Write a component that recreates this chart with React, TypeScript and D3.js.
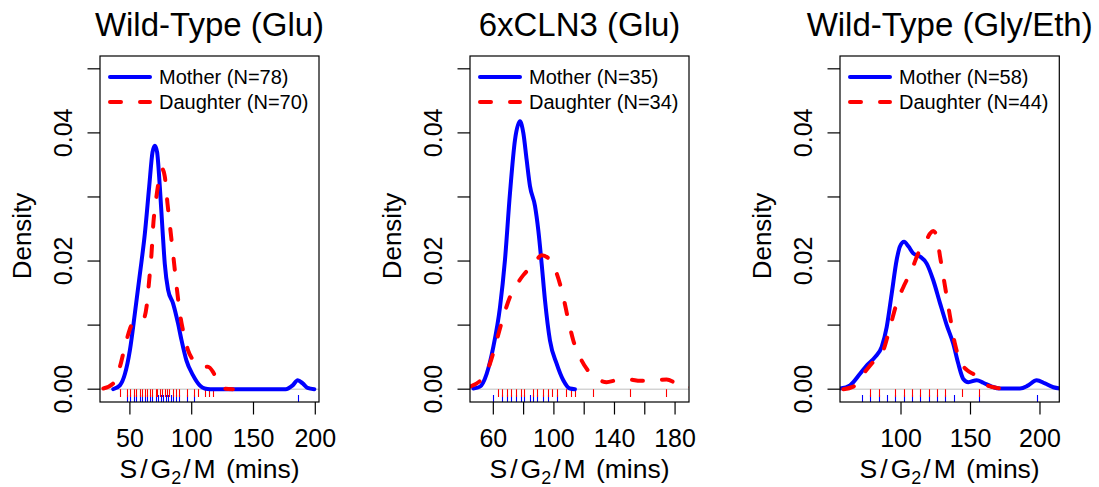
import React from "react";
import * as d3 from "d3";

// ---------- DATA ----------
const panelTitles = ["Wild-Type (Glu)", "6xCLN3 (Glu)", "Wild-Type (Gly/Eth)"];
const motherN = [78, 35, 58];
const daughterN = [70, 34, 44];

const xDomains: [number, number][] = [
  [25.8, 203],
  [44.6, 189.2],
  [56.1, 213.9],
];
const xTicks = [
  [50, 100, 150, 200],
  [60, 80, 100, 120, 140, 160, 180],
  [100, 150, 200],
];
const xTickLabels = [
  [50, 100, 150, 200],
  [60, 100, 140, 180],
  [100, 150, 200],
];
const yTicks = [0, 0.01, 0.02, 0.03, 0.04, 0.05];
const yTickLabels = [0, 0.02, 0.04];

// density curves [minutes, density]
const wtGluMother: [number, number][] = [
  [36.5, 0], [41.9, 0.0006], [46.0, 0.0024], [50.0, 0.0061], [54.0, 0.0118],
  [58.1, 0.018], [62.1, 0.0243], [65.6, 0.0316], [68.3, 0.037], [70.2, 0.038],
  [72.0, 0.037], [74.2, 0.0316], [76.4, 0.0248], [78.2, 0.0196], [80.9, 0.0155],
  [84.9, 0.0134], [88.9, 0.0103], [91.7, 0.0077], [95.7, 0.0045], [101.0, 0.0022],
  [106.5, 0.0006], [110.5, 0.0001], [115, 0], [176, 0], [181.7, 0.0006],
  [185.8, 0.0014], [189.8, 0.0009], [193.8, 0.0002], [199.2, 0],
];
const wtGluDaughter: [number, number][] = [
  [28.5, 0.0001], [36.5, 0.0009], [41.9, 0.0035], [47.3, 0.0077], [52.7, 0.0103],
  [57.0, 0.0104], [60.7, 0.0108], [63.5, 0.0129], [65.6, 0.017], [67.5, 0.0212],
  [68.8, 0.0254], [71.5, 0.0301], [74.2, 0.0333], [76.0, 0.0344], [78.2, 0.0332],
  [80.4, 0.029], [82.8, 0.0248], [85.5, 0.0201], [88.1, 0.0155], [90.9, 0.0113],
  [93.5, 0.0087], [97.0, 0.0061], [102.4, 0.0043], [107.8, 0.0035], [113.1, 0.0035],
  [117.2, 0.0027], [119.9, 0.0017], [126.6, 0.0001], [133.3, 0],
];
const cln3Mother: [number, number][] = [
  [46.8, 0.0001], [51.2, 0.0004], [55.6, 0.0024], [60.0, 0.0066], [64.4, 0.0128],
  [67.7, 0.0202], [71.0, 0.0306], [74.3, 0.0389], [77.6, 0.0418], [79.8, 0.04],
  [82.0, 0.0358], [84.2, 0.0317], [87.5, 0.0286], [89.7, 0.0248], [91.9, 0.0196],
  [94.1, 0.0139], [97.4, 0.0076], [101.8, 0.004], [106.2, 0.0014], [110.6, 0.0001],
  [113.9, 0],
];
const cln3Daughter: [number, number][] = [
  [44.6, 0.0004], [53.4, 0.0019], [57.8, 0.004], [62.2, 0.0076], [66.6, 0.0113],
  [71.0, 0.0144], [75.4, 0.0163], [79.8, 0.0178], [86.4, 0.0194], [91.9, 0.0209],
  [97.4, 0.0202], [101.8, 0.0181], [106.2, 0.0144], [109.5, 0.0108], [112.8, 0.0076],
  [117.2, 0.005], [121.6, 0.0032], [128.2, 0.0017], [134.8, 0.0011], [141.4, 0.0014],
  [150.2, 0.0015], [156.8, 0.0013], [165.5, 0.0014], [174.4, 0.0015], [181.0, 0.0009],
  [188.6, 0.0004], [192, 0.0002],
];
const glyMother: [number, number][] = [
  [56.1, 0.0001], [63.3, 0.0006], [70.5, 0.0024], [75.3, 0.0037], [81.3, 0.005],
  [86.1, 0.0066], [89.7, 0.0097], [93.3, 0.0149], [96.9, 0.0202], [99.3, 0.0223],
  [102.2, 0.023], [105.3, 0.0223], [108.8, 0.0212], [113.7, 0.0207], [118.5, 0.0196],
  [123.2, 0.017], [128.1, 0.0134], [132.9, 0.01], [137.6, 0.0071], [141.2, 0.004],
  [144.8, 0.0016], [148.4, 0.0011], [154.5, 0.0014], [159.2, 0.001], [165.3, 0.0004],
  [171.2, 0.0001], [185.6, 0.0001], [191.6, 0.0006], [197.6, 0.0014], [203.6, 0.0009],
  [209.6, 0.0003], [214.4, 0.0001],
];
const glyDaughter: [number, number][] = [
  [58.5, 0], [65.7, 0.0004], [72.9, 0.0024], [80.1, 0.0043], [87.3, 0.0061],
  [92.1, 0.0097], [96.9, 0.0134], [102.9, 0.0165], [107.7, 0.0186], [112.4, 0.0212],
  [117.3, 0.0228], [120.9, 0.0243], [123.2, 0.0247], [125.7, 0.0238], [128.1, 0.0207],
  [131.7, 0.016], [135.3, 0.0113], [138.8, 0.0071], [142.4, 0.0045], [147.3, 0.003],
  [153.2, 0.0022], [159.2, 0.0009], [168.8, 0.0002], [176.0, 0],
];

// rug observations (minutes)
const wtGluMotherRug = [48, 50, 53, 55, 58, 60, 62, 64, 66, 68, 71, 73, 75, 77, 79, 81, 83, 85, 87, 90, 96, 102, 186];
const wtGluDaughterRug = [42, 48, 50, 53, 55, 58, 60, 62, 64, 66, 68, 71, 72, 74, 76, 78, 80, 82, 85, 87, 90, 96, 102, 105, 111, 114, 117];
const cln3MotherRug = [60, 66, 69, 72, 75, 78, 80, 84, 86, 89, 93, 96, 102];
const cln3DaughterRug = [63, 66, 69, 72, 75, 78, 80, 86, 89, 93, 96, 99, 102, 108, 111, 114, 126, 150, 174];
const glyMotherRug = [72, 78, 84, 90, 96, 102, 108, 114, 120, 126, 132, 138, 156, 198];
const glyDaughterRug = [78, 84, 96, 102, 108, 114, 120, 126, 132, 144, 156];

const motherCurves = [wtGluMother, cln3Mother, glyMother];
const daughterCurves = [wtGluDaughter, cln3Daughter, glyDaughter];
const motherRugs = [wtGluMotherRug, cln3MotherRug, glyMotherRug];
const daughterRugs = [wtGluDaughterRug, cln3DaughterRug, glyDaughterRug];

// ---------- LAYOUT ----------
const W = 1099;
const H = 487;
const boxTop = 56;
const boxBottom = 402;
const boxLefts = [100, 470, 840];
const boxRights = [319, 689, 1059.3];
const FONT = "'Liberation Sans', Arial, Helvetica, sans-serif";
const BLUE = "#0000FF";
const RED = "#FF0000";

const px = (v: number) => Math.round(v) + 0.5;

function Panel({ i }: { i: number }) {
  const left = boxLefts[i];
  const right = boxRights[i];
  const x = d3.scaleLinear().domain(xDomains[i]).range([left, right]);
  const y = d3.scaleLinear().domain([-0.002, 0.052]).range([boxBottom, boxTop]);
  const line = d3
    .line<[number, number]>()
    .x((d) => x(d[0]))
    .y((d) => y(d[1]))
    .curve(d3.curveMonotoneX);
  const cx = (left + right) / 2;
  const clipId = `clip${i}`;
  const y0 = y(0);
  return (
    <g>
      <defs>
        <clipPath id={clipId}>
          <rect x={left} y={boxTop} width={right - left} height={boxBottom - boxTop} />
        </clipPath>
      </defs>
      {/* title */}
      <text x={cx} y={36} textAnchor="middle" fontSize={33} fontFamily={FONT} fill="#000">
        {panelTitles[i]}
      </text>
      {/* zero line */}
      <line x1={left} x2={right} y1={y0} y2={y0} stroke="#BEBEBE" strokeWidth={1} />
      {/* rugs */}
      <g clipPath={`url(#${clipId})`}>
        {motherRugs[i].map((v, k) => (
          <line key={"m" + k} x1={px(x(v))} x2={px(x(v))} y1={395} y2={boxBottom} stroke={BLUE} strokeWidth={1.1} />
        ))}
        {daughterRugs[i].map((v, k) => (
          <line key={"d" + k} x1={px(x(v))} x2={px(x(v))} y1={y0} y2={397} stroke={RED} strokeWidth={1.1} />
        ))}
        <path d={line(motherCurves[i]) || ""} fill="none" stroke={BLUE} strokeWidth={4} strokeLinejoin="round" strokeLinecap="round" />
        <path d={line(daughterCurves[i]) || ""} fill="none" stroke={RED} strokeWidth={4} strokeDasharray="11,19" strokeLinecap="round" />
      </g>
      {/* box */}
      <rect x={left} y={boxTop} width={right - left} height={boxBottom - boxTop} fill="none" stroke="#000" strokeWidth={1.2} />
      {/* y axis */}
      {yTicks.map((t) => (
        <line key={"yt" + t} x1={left - 12.5} x2={left} y1={y(t)} y2={y(t)} stroke="#000" strokeWidth={1.2} />
      ))}
      {yTickLabels.map((t) => (
        <text
          key={"yl" + t}
          transform={`translate(${left - 28.5},${y(t)}) rotate(-90)`}
          textAnchor="middle"
          fontSize={25}
          fontFamily={FONT}
          fill="#000"
        >
          {t.toFixed(2)}
        </text>
      ))}
      <text
        transform={`translate(${left - 69.5},236) rotate(-90)`}
        textAnchor="middle"
        fontSize={26}
        fontFamily={FONT}
        fill="#000"
      >
        Density
      </text>
      {/* x axis */}
      {xTicks[i].map((t) => (
        <line key={"xt" + t} x1={x(t)} x2={x(t)} y1={boxBottom} y2={boxBottom + 12.5} stroke="#000" strokeWidth={1.2} />
      ))}
      {xTickLabels[i].map((t) => (
        <text key={"xl" + t} x={x(t)} y={447} textAnchor="middle" fontSize={25} fontFamily={FONT} fill="#000">
          {t}
        </text>
      ))}
      <text x={cx} y={478} textAnchor="middle" fontSize={26.5} fontFamily={FONT} fill="#000">
        <tspan>S</tspan>
        <tspan dx={3}>/</tspan>
        <tspan dx={3}>G</tspan>
        <tspan dy={6} fontSize={18}>2</tspan>
        <tspan dy={-6} dx={2}>/</tspan>
        <tspan dx={3}>M</tspan>
        <tspan dx={3}>{"\u00a0(mins)"}</tspan>
      </text>
      {/* legend */}
      <line x1={left + 10} x2={left + 50} y1={77} y2={77} stroke={BLUE} strokeWidth={4} strokeLinecap="round" />
      <line x1={left + 10} x2={left + 50} y1={102} y2={102} stroke={RED} strokeWidth={4} strokeDasharray="11,19" strokeLinecap="round" />
      <text x={left + 59} y={77} dominantBaseline="central" fontSize={20} fontFamily={FONT} fill="#000">
        {`Mother (N=${motherN[i]})`}
      </text>
      <text x={left + 59} y={102} dominantBaseline="central" fontSize={20} fontFamily={FONT} fill="#000">
        {`Daughter (N=${daughterN[i]})`}
      </text>
    </g>
  );
}

export default function App() {
  return (
    <svg
      width={W}
      height={H}
      viewBox={`0 0 ${W} ${H}`}
      style={{ position: "absolute", left: 0, top: 0, background: "#fff" }}
    >
      <rect x={0} y={0} width={W} height={H} fill="#fff" />
      {[0, 1, 2].map((i) => (
        <Panel key={i} i={i} />
      ))}
    </svg>
  );
}
